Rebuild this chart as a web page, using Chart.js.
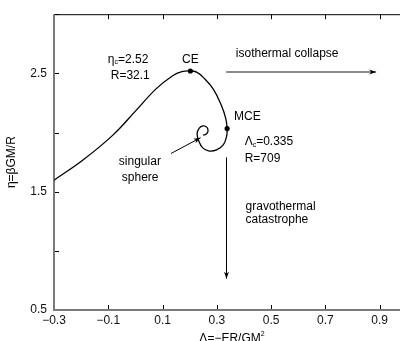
<!DOCTYPE html>
<html>
<head>
<meta charset="utf-8">
<script src="https://cdn.jsdelivr.net/npm/chart.js@4/dist/chart.umd.min.js"></script>
<style>
  html, body { margin: 0; padding: 0; background: #fff; }
  #wrap { width: 404px; height: 341px; }
</style>
</head>
<body>
<div id="wrap"><canvas id="myChart" width="404" height="341"></canvas></div>
<script>
// series: the caloric curve, eta vs Lambda
const lambdaVals = [-0.3, -0.192, -0.083, 0.0025, 0.075, 0.136, 0.171, 0.2025, 0.2255, 0.251, 0.287, 0.317, 0.333, 0.338,
                    0.3356, 0.3236, 0.2993, 0.2691, 0.2473, 0.2345, 0.2273, 0.2345, 0.2491, 0.2636, 0.2673, 0.26, 0.2491];
const etaVals    = [1.597, 1.770, 1.978, 2.187, 2.367, 2.478, 2.514, 2.52, 2.51, 2.464, 2.367, 2.228, 2.117, 2.033,
                    1.964, 1.895, 1.853, 1.845, 1.8725, 1.9225, 1.989, 2.035, 2.056, 2.043, 2.01, 1.985, 1.977];

// critical points CE and MCE
const critLambda = [0.2025, 0.338];
const critEta    = [2.52, 2.033];

// ticks
const xTicks = [-0.3, -0.1, 0.1, 0.3, 0.5, 0.7, 0.9];
const xTickLabels = ['\u22120.3', '\u22120.1', '0.1', '0.3', '0.5', '0.7', '0.9'];
const yTicks = [0.5, 1.0, 1.5, 2.0, 2.5, 3.0];
const yTickLabels = ['0.5', '', '1.5', '', '2.5', ''];

// arrows, in data units [fromLambda, fromEta, toLambda, toEta]
const arrowIso = [0.3345, 2.512, 0.887, 2.512];
const arrowGravo = [0.3356, 1.79, 0.3356, 0.765];
const arrowSing = [0.131, 1.8225, 0.24, 1.956];

// text notes: [text parts, lambda, eta, align]
const notes = [
  [[['\u03b7'], ['c', 'sub'], ['=2.52']], -0.1015, 2.617, 'left'],
  [[['R=32.1']], -0.091, 2.478, 'left'],
  [[['CE']], 0.2025, 2.617, 'center'],
  [[['isothermal collapse']], 0.37, 2.667, 'left'],
  [[['MCE']], 0.3636, 2.131, 'left'],
  [[['\u039b'], ['c', 'sub'], ['=0.335']], 0.4025, 1.9225, 'left'],
  [[['R=709']], 0.4025, 1.781, 'left'],
  [[['singular']], 0.0164, 1.756, 'center'],
  [[['sphere']], 0.0175, 1.617, 'center'],
  [[['gravothermal']], 0.406, 1.375, 'left'],
  [[['catastrophe']], 0.406, 1.26, 'left']
];

const FONT = '"Liberation Sans", Arial, Helvetica, sans-serif';

function drawRich(ctx, parts, x, y, align) {
  const big = '12px ' + FONT, small = '7px ' + FONT;
  let total = 0;
  parts.forEach(p => { ctx.font = p[1] ? small : big; total += ctx.measureText(p[0]).width; });
  let cx = align === 'center' ? x - total / 2 : x;
  ctx.textAlign = 'left';
  ctx.textBaseline = 'middle';
  parts.forEach(p => {
    ctx.font = p[1] ? small : big;
    let dy = p[1] === 'sub' ? 3 : (p[1] === 'sup' ? -5 : 0);
    ctx.fillText(p[0], cx, y + dy);
    cx += ctx.measureText(p[0]).width;
  });
}

function arrow(ctx, xs, ys, a, color, lw) {
  const x1 = xs.getPixelForValue(a[0]), y1 = ys.getPixelForValue(a[1]);
  const x2 = xs.getPixelForValue(a[2]), y2 = ys.getPixelForValue(a[3]);
  ctx.save();
  ctx.strokeStyle = color;
  ctx.lineWidth = lw;
  ctx.beginPath();
  ctx.moveTo(x1, y1);
  ctx.lineTo(x2, y2);
  ctx.stroke();
  const ang = Math.atan2(y2 - y1, x2 - x1);
  const len = 7, hw = 2.5;
  ctx.fillStyle = '#000';
  ctx.beginPath();
  ctx.moveTo(x2, y2);
  ctx.lineTo(x2 - len * Math.cos(ang) + hw * Math.sin(ang), y2 - len * Math.sin(ang) - hw * Math.cos(ang));
  ctx.lineTo(x2 - len * 0.7 * Math.cos(ang), y2 - len * 0.7 * Math.sin(ang));
  ctx.lineTo(x2 - len * Math.cos(ang) - hw * Math.sin(ang), y2 - len * Math.sin(ang) + hw * Math.cos(ang));
  ctx.closePath();
  ctx.fill();
  ctx.restore();
}

// frame: grey left/bottom axes, thin black top line, inward ticks
const framePlugin = {
  id: 'framePlugin',
  beforeDatasetsDraw: (chart) => {
    const ctx = chart.ctx;
    const a = chart.chartArea;
    const xs = chart.scales.x, ys = chart.scales.y;
    ctx.save();
    ctx.strokeStyle = '#000';
    ctx.lineWidth = 1;
    ctx.beginPath();
    ctx.moveTo(a.left, a.top + 0.5);
    ctx.lineTo(a.right, a.top + 0.5);
    ctx.stroke();
    // ticks
    ctx.beginPath();
    xTicks.forEach(v => {
      const px = Math.round(xs.getPixelForValue(v)) + 0.5;
      ctx.moveTo(px, a.bottom);
      ctx.lineTo(px, a.bottom - 5);
      ctx.moveTo(px, a.top);
      ctx.lineTo(px, a.top + 5);
    });
    yTicks.forEach(v => {
      const py = Math.round(ys.getPixelForValue(v)) + 0.5;
      ctx.moveTo(a.left, py);
      ctx.lineTo(a.left + 5, py);
    });
    ctx.stroke();
    ctx.strokeStyle = '#7a7a7a';
    ctx.lineWidth = 2;
    ctx.beginPath();
    ctx.moveTo(a.left, a.top);
    ctx.lineTo(a.left, a.bottom);
    ctx.lineTo(a.right, a.bottom);
    ctx.stroke();
    ctx.restore();
  },
  afterDatasetsDraw: (chart) => {
    const ctx = chart.ctx;
    const xs = chart.scales.x, ys = chart.scales.y;
    ctx.save();
    arrow(ctx, xs, ys, arrowIso, '#666', 1.5);
    arrow(ctx, xs, ys, arrowGravo, '#000', 1);
    arrow(ctx, xs, ys, arrowSing, '#000', 1);
    ctx.fillStyle = '#000';
    notes.forEach(n => {
      drawRich(ctx, n[0], xs.getPixelForValue(n[1]), ys.getPixelForValue(n[2]), n[3]);
    });
    // axis titles
    ctx.save();
    ctx.translate(12, (chart.chartArea.top + chart.chartArea.bottom) / 2);
    ctx.rotate(-Math.PI / 2);
    drawRich(ctx, [['\u03b7=\u03b2GM/R']], 0, 0, 'center');
    ctx.restore();
    drawRich(ctx, [['\u039b=\u2212ER/GM'], ['2', 'sup']], 232, 339, 'center');
    ctx.restore();
  }
};

const curve = lambdaVals.map((l, i) => ({ x: l, y: etaVals[i] }));
const critical = critLambda.map((l, i) => ({ x: l, y: critEta[i] }));

const ctx = document.getElementById('myChart').getContext('2d');
const myChart = new Chart(ctx, {
  type: 'scatter',
  data: {
    datasets: [{
      label: 'curve',
      data: curve,
      showLine: true,
      borderColor: '#000',
      borderWidth: 1.3,
      pointRadius: 0,
      tension: 0.4,
      fill: false
    },
    {
      label: 'critical',
      data: critical,
      showLine: false,
      pointRadius: 2.6,
      backgroundColor: '#000',
      borderColor: '#000',
      borderWidth: 0
    }]
  },
  options: {
    responsive: false,
    animation: false,
    layout: { padding: { top: 10, right: 0, left: 0, bottom: 0 } },
    plugins: { legend: { display: false }, tooltip: { enabled: false } },
    scales: {
      x: {
        type: 'linear',
        min: -0.3,
        max: 0.975,
        afterBuildTicks: s => { s.ticks = xTicks.map(v => ({ value: v })); },
        afterFit: s => { s.height = 31; },
        grid: { display: false, drawTicks: false },
        border: { display: false },
        ticks: {
          padding: 3,
          maxRotation: 0,
          autoSkip: false,
          color: '#111',
          font: { family: FONT, size: 12 },
          callback: (v) => { const i = xTicks.findIndex(t => Math.abs(t - v) < 1e-6); return i >= 0 ? xTickLabels[i] : ''; }
        }
      },
      y: {
        type: 'linear',
        min: 0.5,
        max: 3.0,
        afterBuildTicks: s => { s.ticks = yTicks.map(v => ({ value: v })); },
        afterFit: s => { s.width = 54; },
        grid: { display: false, drawTicks: false },
        border: { display: false },
        ticks: {
          padding: 7,
          autoSkip: false,
          color: '#111',
          font: { family: FONT, size: 12 },
          callback: (v) => { const i = yTicks.findIndex(t => Math.abs(t - v) < 1e-6); return i >= 0 ? yTickLabels[i] : ''; }
        }
      }
    }
  },
  plugins: [framePlugin]
});
</script>
</body>
</html>
